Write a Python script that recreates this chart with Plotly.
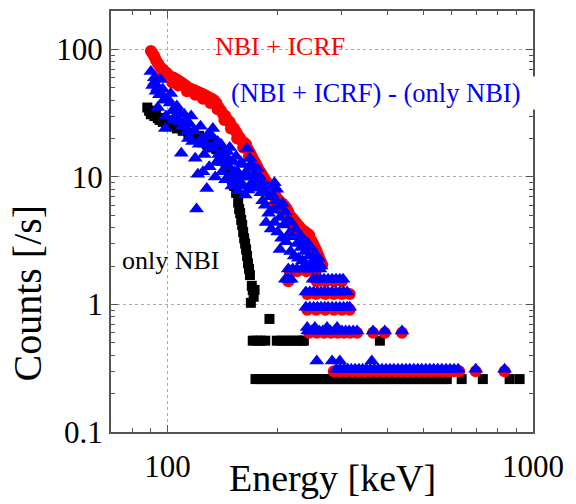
import plotly.graph_objects as go
import math

# ---------------- data ----------------
# NBI + ICRF (red circles)
red_E = [90, 91, 92, 93, 94, 95, 96, 97, 98, 99, 100, 101, 102, 104, 106, 108, 110, 112, 114, 116,
         118, 120, 122, 124, 126, 128, 130, 132, 134, 136, 138, 140, 142, 144, 146, 148, 150, 152,
         154, 156, 158, 160, 162, 164, 166, 168, 170, 172, 174, 176, 178, 180, 182, 184, 186, 188,
         190, 192, 194, 196, 198, 200, 202, 204, 206, 208, 210, 212, 214, 216, 218, 220, 223, 226,
         229, 232, 235, 238, 241, 244, 247, 250, 253, 256, 259, 262, 265,
         97, 103, 107, 113, 119, 125, 131, 137, 143, 149, 155, 161, 167, 173, 179, 185, 191, 197,
         203, 209, 215, 221, 227, 233, 239, 245, 251, 257,
         216, 226, 240, 254,
         214, 256, 270, 285, 300,
         241, 255, 270, 285, 300, 315,
         241, 255, 270, 285, 300, 315,
         244, 256, 268, 280, 292, 304, 316, 330, 365, 393, 438,
         285, 296, 308, 320, 333, 346, 360, 374, 389, 404, 420, 436, 453, 470, 488, 506, 525, 545,
         565, 586, 607, 628, 697, 836]
red_counts = [97, 93, 88, 82, 78, 74, 71, 70, 67, 66, 64, 62, 61, 60, 58, 56, 54, 52, 50, 49,
              48, 47, 46, 45, 44, 43, 42, 41, 40, 38, 35, 33, 31, 30, 28, 27, 25, 24,
              22.5, 21, 20, 19, 18.5, 18, 16.5, 15.5, 14.5, 13.5, 12.8, 12, 11.3, 10.8, 10.2, 9.7, 9.2, 8.9,
              8.7, 8.4, 8.2, 7.5, 7.0, 6.7, 6.5, 6.3, 6.2, 6.0, 5.8, 5.6, 5.3, 5.0, 4.8, 4.7, 4.5, 4.3,
              4.1, 3.9, 3.8, 3.7, 3.6, 3.5, 3.2, 3.0, 2.8, 2.6, 2.4, 2.2, 2.05,
              62, 55, 52, 47, 44, 41, 38, 34, 28, 24, 20, 17, 14.5, 12, 10, 8.5, 7.5, 6.3,
              5.6, 5.2, 4.5, 4.0, 3.6, 3.3, 3.0, 2.8, 2.5, 2.3,
              1.82, 1.82, 1.82, 1.82,
              1.52, 1.52, 1.52, 1.52, 1.52,
              1.21, 1.21, 1.21, 1.21, 1.21, 1.21,
              0.91, 0.91, 0.91, 0.91, 0.91, 0.91,
              0.60, 0.60, 0.60, 0.60, 0.60, 0.60, 0.60, 0.60, 0.60, 0.60, 0.60,
              0.30, 0.30, 0.30, 0.30, 0.30, 0.30, 0.30, 0.30, 0.30, 0.30, 0.30, 0.30, 0.30, 0.30,
              0.30, 0.30, 0.30, 0.30, 0.30, 0.30, 0.30, 0.30, 0.30, 0.30]

# only NBI (black squares)
black_E = [88, 89, 90, 91, 92, 93, 94, 95, 96, 97, 98, 99, 100, 102, 104, 106, 108, 110, 112, 114,
           116, 118, 120, 122, 124, 126, 128, 130, 132, 134, 136, 138, 140, 142, 144, 146, 148, 150,
           152, 154, 156, 157, 158, 159, 160, 161, 162, 163, 164, 165, 166, 167, 168, 169, 170, 171,
           172, 173, 190,
           171, 175, 180, 185, 199, 205, 212, 219, 226, 233, 236, 381,
           174, 178, 183, 188, 193, 198, 204, 210, 216, 222, 228, 235, 242, 249, 256, 264, 272, 280,
           289, 298, 307, 316, 326, 336, 346, 357, 368, 379, 391, 403, 416, 433, 444, 458, 472, 486,
           501, 516, 532, 548, 565, 581, 638, 729, 863, 919]
black_counts = [35, 33, 31, 33, 30, 31, 29, 28, 29, 27, 28, 26, 27, 25, 26, 24, 25, 23, 24, 22,
                21, 22, 20, 21, 19, 20, 18, 19, 17, 18, 16.5, 17, 16, 15, 13, 12, 10.5, 9.5,
                8.5, 7.5, 6.3, 5.6, 5.2, 4.6, 4.2, 3.7, 3.3, 3.0, 2.7, 2.4, 2.1, 1.9, 1.7, 1.03, 1.4, 1.3,
                1.15, 1.3, 0.77,
                0.52, 0.52, 0.52, 0.52, 0.52, 0.52, 0.52, 0.52, 0.52, 0.52, 0.52, 0.52,
                0.26, 0.26, 0.26, 0.26, 0.26, 0.26, 0.26, 0.26, 0.26, 0.26, 0.26, 0.26, 0.26, 0.26,
                0.26, 0.26, 0.26, 0.26, 0.26, 0.26, 0.26, 0.26, 0.26, 0.26, 0.26, 0.26, 0.26, 0.26,
                0.26, 0.26, 0.26, 0.26, 0.26, 0.26, 0.26, 0.26, 0.26, 0.26, 0.26, 0.26, 0.26, 0.26,
                0.26, 0.26, 0.26, 0.26]

# (NBI + ICRF) - (only NBI) (blue triangles)
blue_E = [90, 91, 92, 93, 94, 95, 95.6, 97, 97.5, 98.6, 100, 101.6, 103, 105, 106, 108, 109, 110,
          111, 113, 115, 117, 118, 119, 120, 121, 122, 124, 125, 126, 128, 129, 130, 131, 133, 134,
          136, 137, 139, 141, 143, 145.6, 147, 149, 150, 151, 153, 155, 156, 158, 160, 162, 163,
          165, 166, 168, 170, 172, 174, 176, 178, 180, 183, 196, 199,
          92, 94, 96, 99, 102, 104, 107, 112, 114, 116, 123, 127, 132, 135, 138, 140, 142, 144,
          146, 148, 152, 154, 157, 159, 161, 164, 167, 169, 171, 173, 175, 177, 179, 181, 182, 184,
          185, 186, 188, 189, 190, 192, 193, 195, 196, 198, 200, 201, 203, 203, 205, 206, 208, 210,
          211, 213, 215, 217, 218, 220, 222, 224, 226, 228, 230, 232, 234, 236, 238, 240, 242, 244,
          247, 250, 253, 256, 259, 263,
          214, 220, 226, 233, 240, 247, 254, 261,
          210, 214, 218, 250, 256, 262, 268, 275, 282, 289, 296, 302,
          239, 245, 251, 257, 263, 269, 275, 282, 289, 296, 303, 310,
          239, 245, 251, 257, 263, 269, 275, 282, 289, 296, 303, 310, 315,
          242, 248, 254, 260, 266, 272, 279, 286, 293, 300, 307, 314, 322, 330, 365, 393, 438,
          241, 253, 273, 291,
          290, 297, 304, 311, 318, 326, 334, 342, 350, 359, 368, 377, 386, 396, 406, 416, 427, 438,
          449, 460, 472, 484, 496, 509, 522, 535, 549, 563, 578, 593, 608, 624, 697, 836,
          256, 282, 296, 362]
blue_counts = [67, 52, 60, 47, 35, 44, 58, 49, 40, 24, 41, 38, 33, 30, 36, 27, 15.3, 25,
               31, 22.7, 26, 19, 23, 14, 5.6, 10.5, 18, 20, 11, 15, 8.1, 21.5, 12, 17, 24, 16.7,
               13, 19, 14, 11, 16, 15.8, 12, 10, 8.5, 13.2, 9.5, 11, 7.8, 9.2, 12.5, 10, 7.2,
               16.7, 7.9, 14, 9, 12, 8.2, 11.7, 9.5, 7.5, 8.5, 9.0, 8.0,
               55, 50, 45, 30, 45, 28, 33, 28, 20, 30, 25, 18, 21, 10, 15, 18, 13, 9.5,
               14, 17, 11, 14.5, 10.5, 13, 8.5, 11, 10, 12.5, 8.7, 10.5, 9.5, 8.2, 10, 8.8, 6.5, 7.8,
               6.0, 4.4, 8.5, 5.2, 7.0, 3.9, 7.3, 5.5, 4.4, 6.5, 3.7, 5.8, 4.8, 2.7, 3.3, 6.2, 4.2, 5.3,
               3.1, 4.6, 3.6, 2.6, 4.4, 3.4, 2.4, 3.9, 3.0, 2.3, 3.5, 2.8, 2.2, 3.2, 2.6, 2.05, 3.0, 2.4,
               2.8, 2.2, 2.5, 2.1, 2.3, 2.0,
               1.9, 1.9, 1.9, 1.9, 1.9, 1.9, 1.9, 1.9,
               1.58, 1.58, 1.58, 1.58, 1.58, 1.58, 1.58, 1.58, 1.58, 1.58, 1.58, 1.58,
               1.25, 1.25, 1.25, 1.25, 1.25, 1.25, 1.25, 1.25, 1.25, 1.25, 1.25, 1.25,
               0.95, 0.95, 0.95, 0.95, 0.95, 0.95, 0.95, 0.95, 0.95, 0.95, 0.95, 0.95, 0.95,
               0.62, 0.62, 0.62, 0.62, 0.62, 0.62, 0.62, 0.62, 0.62, 0.62, 0.62, 0.62, 0.62, 0.62,
               0.62, 0.62, 0.62,
               0.66, 0.66, 0.66, 0.66,
               0.31, 0.31, 0.31, 0.31, 0.31, 0.31, 0.31, 0.31, 0.31, 0.31, 0.31, 0.31, 0.31, 0.31,
               0.31, 0.31, 0.31, 0.31, 0.31, 0.31, 0.31, 0.31, 0.31, 0.31, 0.31, 0.31, 0.31, 0.31,
               0.31, 0.31, 0.31, 0.31, 0.31, 0.31,
               0.36, 0.36, 0.36, 0.36]

x_tickvals = [100, 1000]
x_ticktext = ["100", "1000"]
y_tickvals = [0.1, 1, 10, 100]
y_ticktext = ["0.1", "1", "10", "100"]

# ---------------- figure ----------------
SERIF = "Liberation Serif"
AX = "#555555"

fig = go.Figure()
fig.add_trace(go.Scatter(x=black_E, y=black_counts, mode="markers", name="only NBI",
                         marker=dict(symbol="square", size=10, color="black", line=dict(width=0))))
fig.add_trace(go.Scatter(x=red_E, y=red_counts, mode="markers", name="NBI + ICRF",
                         marker=dict(symbol="circle", size=12, color="#ff0000", line=dict(width=0))))
fig.add_trace(go.Scatter(x=blue_E, y=blue_counts, mode="markers", name="(NBI + ICRF) - (only NBI)",
                         marker=dict(symbol="triangle-up", size=13, color="#0000ff", line=dict(width=0))))

axis_common = dict(
    type="log", showline=True, linecolor=AX, linewidth=2, mirror="allticks",
    ticks="inside", ticklen=7, tickwidth=1, tickcolor=AX,
    showgrid=True, gridcolor="#aaaaaa", gridwidth=1, griddash="dot",
    zeroline=False, tickfont=dict(family=SERIF, size=31, color="black"),
    minor=dict(ticks="inside", ticklen=4, tickwidth=1, tickcolor=AX, dtick="D1", showgrid=False),
)

fig.update_xaxes(range=[math.log10(70), 3], tickvals=x_tickvals, ticktext=x_ticktext,
                 ticklabelstandoff=6, **axis_common)
fig.update_yaxes(range=[-1, math.log10(200)], tickvals=y_tickvals, ticktext=y_ticktext, **axis_common)

fig.add_annotation(text="NBI + ICRF", xref="paper", yref="paper", x=0.401, y=0.915,
                   xanchor="center", yanchor="middle",
                   showarrow=False, font=dict(family=SERIF, size=26, color="#ff0000"))
fig.add_annotation(text="(NBI + ICRF) - (only NBI)", xref="paper", yref="paper", x=0.280, y=0.806,
                   xanchor="left", yanchor="middle", align="left", width=306, borderpad=1,
                   bgcolor="white", showarrow=False,
                   font=dict(family=SERIF, size=26.5, color="#0000ff"))
fig.add_annotation(text="only NBI", xref="paper", yref="paper", x=0.143, y=0.407,
                   xanchor="center", yanchor="middle",
                   showarrow=False, font=dict(family=SERIF, size=26, color="black"))
fig.add_annotation(text="Energy [keV]", xref="paper", yref="paper", x=0.526, y=-0.109,
                   xanchor="center", yanchor="middle", showarrow=False,
                   font=dict(family=SERIF, size=38, color="black"))
fig.add_annotation(text="Counts [/s]", xref="paper", yref="paper", x=-0.198, y=0.33,
                   xanchor="center", yanchor="middle", textangle=-90, showarrow=False,
                   font=dict(family=SERIF, size=40, color="black"))

fig.update_layout(
    width=576, height=504, showlegend=False,
    margin=dict(l=111, r=43, t=9, b=72),
    paper_bgcolor="white", plot_bgcolor="white",
)

fig.write_html("out.html")
